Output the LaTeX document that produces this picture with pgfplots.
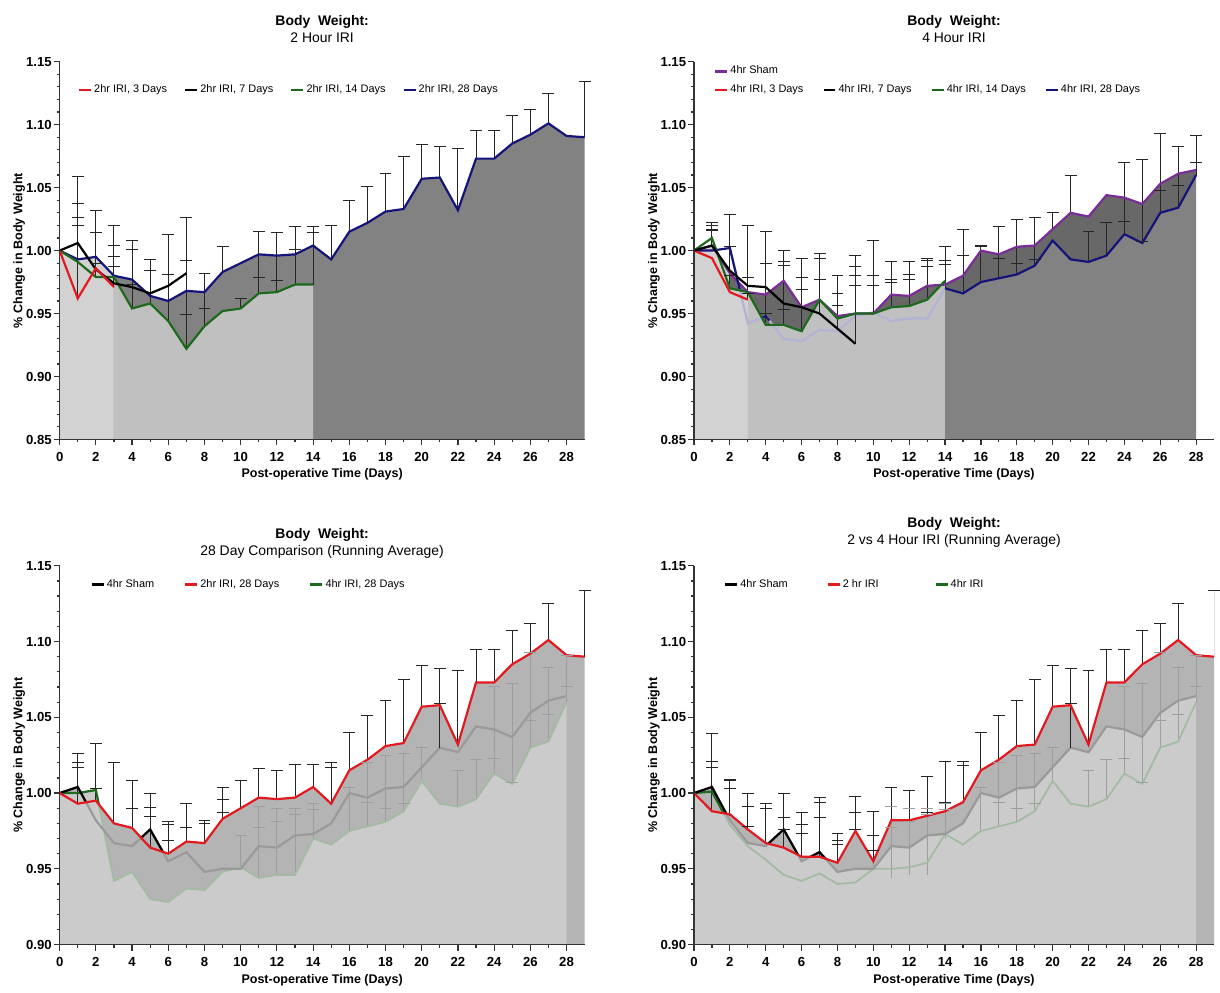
\documentclass[border=0pt]{standalone}
\usepackage{fontspec}
\setmainfont{Liberation Sans}
\usepackage{pgfplots}
\pgfplotsset{compat=1.18}
\usepackage{pgfplotstable}

\definecolor{cred}{HTML}{E3191F}
\definecolor{cgreen}{HTML}{1D6A1D}
\definecolor{cblue}{HTML}{14147A}
\definecolor{cpurple}{HTML}{7A2C98}
\definecolor{lg}{HTML}{D2D2D2}
\definecolor{mg}{HTML}{C0C0C0}
\definecolor{dg}{HTML}{828282}
\definecolor{dd}{HTML}{686868}
\definecolor{fa}{HTML}{B4B4B4}
\definecolor{fb}{HTML}{CBCBCB}
\definecolor{ebc}{HTML}{262626}
\definecolor{ebf}{HTML}{9E9E9E}
\definecolor{shamg}{HTML}{9A9A9A}
\definecolor{greenf}{HTML}{A2BCA2}
\definecolor{bluef}{HTML}{B2B2D6}

% ---------- Panel 1: 2 hour IRI ----------
\pgfplotstableread{
x y
0 1.000
1 0.962
2 0.986
3 0.971
}\pAred
\pgfplotstableread{
x y
0 1.000
1 1.006
2 0.985
3 0.974
4 0.971
5 0.966
6 0.972
7 0.982
}\pAblack
\pgfplotstableread{
x y
0 1.000
1 0.991
2 0.979
3 0.979
4 0.954
5 0.958
6 0.944
7 0.922
8 0.940
9 0.952
10 0.954
11 0.966
12 0.967
13 0.973
14 0.973
}\pAgreen
\pgfplotstableread{
x y
0 1.000
1 0.993
2 0.995
3 0.980
4 0.977
5 0.964
6 0.960
7 0.968
8 0.967
9 0.983
10 0.990
11 0.997
12 0.996
13 0.997
14 1.004
15 0.993
16 1.015
17 1.022
18 1.031
19 1.033
20 1.057
21 1.058
22 1.032
23 1.073
24 1.073
25 1.085
26 1.092
27 1.101
28 1.091
29 1.090
}\pAblue
\pgfplotstableread{
x b t
1 0.962 1.059
1 0.962 1.0375
1 0.962 1.026
1 0.962 1.020
2 0.979 1.032
2 0.979 1.014
2 0.979 0.990
3 0.971 1.020
3 0.971 1.004
3 0.971 0.995
3 0.971 0.987
4 0.954 1.008
4 0.954 1.001
4 0.954 0.973
5 0.958 0.993
5 0.958 0.984
6 0.944 1.013
6 0.944 0.981
7 0.922 1.026
7 0.922 0.992
7 0.922 0.949
8 0.940 0.982
8 0.940 0.954
9 0.983 1.003
10 0.954 0.962
11 0.966 1.015
11 0.966 0.979
12 0.967 1.014
12 0.967 0.976
13 0.973 1.019
13 0.973 1.001
14 0.973 1.019
14 0.973 1.014
15 0.993 1.020
16 1.015 1.040
17 1.022 1.051
18 1.031 1.061
19 1.033 1.075
20 1.057 1.084
21 1.058 1.083
22 1.032 1.081
23 1.073 1.095
24 1.073 1.095
25 1.085 1.107
26 1.092 1.112
27 1.101 1.125
29 1.090 1.134
}\pAerr

% ---------- Panel 2: 4 hour IRI ----------
\pgfplotstableread{
x y
0 1.000
1 1.004
2 0.982
3 0.967
4 0.965
5 0.976
6 0.955
7 0.961
8 0.948
9 0.950
10 0.950
11 0.965
12 0.964
13 0.972
14 0.973
15 0.980
16 1.000
17 0.997
18 1.003
19 1.004
20 1.017
21 1.030
22 1.027
23 1.044
24 1.042
25 1.037
26 1.053
27 1.061
28 1.064
}\sham
\pgfplotstableread{
x y
0 1.000
1 0.994
2 0.967
3 0.961
}\pBred
\pgfplotstableread{
x y
0 1.000
1 1.004
2 0.984
3 0.972
4 0.971
5 0.958
6 0.955
7 0.950
8 0.938
9 0.926
}\pBblack
\pgfplotstableread{
x y
0 1.000
1 1.010
2 0.970
3 0.967
4 0.941
5 0.941
6 0.936
7 0.961
8 0.946
9 0.950
10 0.950
11 0.955
12 0.956
13 0.961
14 0.976
}\pBgreen
\pgfplotstableread{
x y
0 1.000
1 1.000
2 1.002
3 0.942
4 0.948
5 0.930
6 0.928
7 0.937
8 0.936
9 0.948
10 0.951
11 0.944
12 0.946
13 0.946
14 0.970
15 0.966
16 0.975
17 0.978
18 0.981
19 0.988
20 1.008
21 0.993
22 0.991
23 0.996
24 1.013
25 1.006
26 1.030
27 1.034
28 1.060
}\pBblue
\pgfplotstableread{
x b t
1 1.003 1.022
1 1.003 1.020
1 1.003 1.017
1 1.003 1.016
2 0.970 1.029
2 0.970 1.003
2 0.970 0.980
3 0.961 1.020
3 0.961 0.979
3 0.961 0.966
4 0.941 1.015
4 0.941 0.990
4 0.941 0.950
5 0.941 1.000
5 0.941 0.991
5 0.941 0.988
5 0.941 0.953
6 0.936 0.994
6 0.936 0.979
6 0.936 0.969
7 0.950 0.998
7 0.950 0.994
7 0.950 0.977
8 0.938 0.980
8 0.938 0.966
8 0.938 0.956
9 0.926 0.996
9 0.926 0.987
9 0.926 0.980
9 0.926 0.972
10 0.950 1.008
10 0.950 0.980
10 0.950 0.972
11 0.955 0.991
11 0.955 0.977
11 0.955 0.975
12 0.956 0.991
12 0.956 0.981
12 0.956 0.977
13 0.961 0.994
13 0.961 0.992
13 0.961 0.987
14 0.970 1.003
14 0.970 0.992
14 0.970 0.989
15 0.966 1.017
15 0.966 0.996
16 0.975 1.004
16 0.975 1.003
17 0.978 1.019
17 0.978 0.994
18 0.981 1.025
18 0.981 0.990
19 0.988 1.026
19 0.988 0.993
20 1.017 1.030
21 1.030 1.060
22 0.991 1.015
23 0.996 1.022
24 1.013 1.070
24 1.013 1.023
25 1.005 1.072
25 1.005 1.007
26 1.030 1.093
26 1.030 1.048
27 1.034 1.083
27 1.034 1.052
28 1.060 1.091
28 1.060 1.070
}\pBerr

% ---------- Panel 3 error bars ----------
\pgfplotstableread{
x b t
1 0.993 1.026
1 0.993 1.0205
1 0.993 1.017
2 0.995 1.0325
2 0.995 1.003
3 0.980 1.020
4 0.977 1.008
4 0.977 0.990
5 0.963 1.000
5 0.963 0.9906
5 0.963 0.9847
6 0.960 0.981
6 0.960 0.979
6 0.960 0.969
7 0.968 0.993
7 0.968 0.977
8 0.967 0.982
8 0.967 0.980
9 0.983 1.004
9 0.983 0.996
9 0.983 0.987
10 0.990 1.008
11 0.997 1.016
12 0.996 1.015
13 0.997 1.019
14 1.004 1.019
15 0.993 1.0205
15 0.993 1.017
16 1.015 1.040
17 1.022 1.051
18 1.031 1.061
19 1.033 1.075
20 1.057 1.084
21 1.058 1.082
21 1.030 1.059
22 1.032 1.081
23 1.073 1.095
24 1.073 1.095
25 1.085 1.107
26 1.092 1.112
27 1.101 1.125
29 1.090 1.134
}\pCerr
\pgfplotstableread{
x b t
10 0.951 0.972
11 0.944 0.991
11 0.944 0.977
12 0.946 0.990
12 0.946 0.981
13 0.946 0.990
13 0.946 0.986
14 0.970 0.993
14 0.970 0.989
16 0.975 1.004
17 0.978 1.020
17 0.978 0.994
18 0.981 1.025
18 0.981 0.990
19 0.988 1.026
19 0.988 0.993
20 1.008 1.030
22 0.991 1.015
23 0.996 1.022
24 1.013 1.070
24 1.013 1.023
25 1.006 1.072
25 1.006 1.007
26 1.030 1.093
26 1.030 1.048
27 1.034 1.083
27 1.034 1.052
28 1.060 1.091
28 1.060 1.070
}\faintErr

% ---------- Panel 4 ----------
\pgfplotstableread{
x y
0 1.000
1 0.988
2 0.986
3 0.976
4 0.967
5 0.964
6 0.958
7 0.958
8 0.954
9 0.975
10 0.955
11 0.982
12 0.982
13 0.985
14 0.988
15 0.994
16 1.015
17 1.022
18 1.031
19 1.032
20 1.057
21 1.058
22 1.032
23 1.073
24 1.073
25 1.085
26 1.092
27 1.101
28 1.091
29 1.090
}\pDred
\pgfplotstableread{
x y
0 1.000
1 1.001
2 0.979
3 0.965
4 0.956
5 0.946
6 0.942
7 0.947
8 0.940
9 0.941
10 0.950
11 0.950
12 0.951
13 0.954
14 0.973
15 0.966
16 0.975
17 0.978
18 0.981
19 0.988
20 1.008
21 0.993
22 0.991
23 0.996
24 1.013
25 1.006
26 1.030
27 1.034
28 1.060
}\pDgreen
\pgfplotstableread{
x b t
1 0.988 1.039
1 0.988 1.021
1 0.988 1.017
2 0.985 1.009
2 0.985 1.008
2 0.985 1.003
3 0.976 1.000
3 0.976 0.991
3 0.976 0.978
4 0.967 0.993
4 0.967 0.990
5 0.964 1.000
5 0.964 0.984
5 0.964 0.976
6 0.958 0.987
6 0.958 0.979
6 0.958 0.973
7 0.958 0.997
7 0.958 0.994
7 0.958 0.984
8 0.954 0.973
8 0.954 0.969
8 0.954 0.966
9 0.975 0.998
9 0.975 0.987
9 0.975 0.976
10 0.955 0.988
10 0.955 0.972
10 0.955 0.962
11 0.982 1.004
12 0.982 1.002
13 0.985 1.011
13 0.985 0.987
14 0.988 1.021
14 0.988 0.994
15 0.994 1.021
15 0.994 1.018
16 1.015 1.040
17 1.022 1.051
18 1.031 1.061
19 1.032 1.075
20 1.057 1.084
21 1.058 1.082
21 1.030 1.059
22 1.032 1.081
23 1.073 1.095
24 1.073 1.095
25 1.085 1.107
26 1.092 1.112
27 1.101 1.125
29 1.090 1.134
}\pDerr

\pgfplotsset{
  legend image code/.code={\draw[#1, line width=1.2pt] (0pt,0pt) -- (6pt,0pt);},
  bw/.style={
    scale only axis,
    xmin=0, xmax=29,
    axis lines*=left,
    axis on top,
    axis line style={-, line width=0.7pt, black!80},
    xtick={0,2,...,28},
    minor x tick num=1,
    minor y tick num=4,
    tick align=outside,
    major tick length=3pt,
    minor tick length=1.5pt,
    tick style={black!80, line width=0.6pt},
    clip=false,
    /pgf/number format/assume math mode=true,
    tick label style={font=\fontsize{6.6}{7.5}\selectfont\bfseries},
    yticklabel style={inner sep=0.8pt, /pgf/number format/.cd, fixed, fixed zerofill, precision=2},
    xlabel={Post-operative Time (Days)},
    ylabel={\% Change in Body Weight},
    label style={font=\fontsize{6.3}{7.5}\selectfont\bfseries},
    ylabel style={at={(axis description cs:-0.071,0.5)}, anchor=base},
    legend style={draw=none, fill=none, font=\fontsize{5.5}{6.6}\selectfont,
      anchor=north west, inner sep=0pt, nodes={inner sep=1pt}},
    legend cell align=left,
  },
  errv/.style={forget plot, line width=0.5pt, #1, quiver={u=0, v=\thisrow{t}-\thisrow{b}}},
  errc/.style={forget plot, only marks, mark=-, mark size=3pt, #1, mark options={line width=0.5pt, #1}},
  ln/.style={forget plot, line width=1.1pt, #1},
  ar/.style={forget plot, draw=none, fill=#1},
  ttl/.style={title style={font=\fontsize{7}{8.5}\selectfont, align=center, inner sep=0pt, yshift=#1}},
  xl/.style={xlabel style={at={(axis description cs:0.5,0)}, anchor=base, yshift=#1}},
}

\begin{document}
\begin{tikzpicture}
\path (0,0) rectangle (610pt,-494pt);

% ================= Panel 1 =================
\begin{axis}[bw, at={(30pt,-221pt)}, anchor=south west,
  width=264pt, height=190pt, ymin=0.85, ymax=1.15,
  ytick={0.85,0.90,0.95,1.00,1.05,1.10,1.15},
  title={\textbf{Body\ \ Weight:}\\2 Hour IRI}, ttl=3.5pt, xl=-19pt,
  legend columns=4,
  legend style={at={(0.034,0.945)}, /tikz/every even column/.append style={column sep=7.5pt}}]
\addplot[ar=lg] coordinates {(0,0.85) (0,1.000) (1,0.993) (2,0.995) (3,0.980) (3,0.85)};
\addplot[ar=dg] coordinates {(3,0.85) (3,0.980) (4,0.977) (5,0.964) (6,0.960) (7,0.968) (8,0.967) (9,0.983) (10,0.990) (11,0.997) (12,0.996) (13,0.997) (14,1.004) (15,0.993) (16,1.015) (17,1.022) (18,1.031) (19,1.033) (20,1.057) (21,1.058) (22,1.032) (23,1.073) (24,1.073) (25,1.085) (26,1.092) (27,1.101) (28,1.091) (29,1.090) (29,0.85)};
\addplot[ar=mg] coordinates {(3,0.85) (3,0.979) (4,0.954) (5,0.958) (6,0.944) (7,0.922) (8,0.940) (9,0.952) (10,0.954) (11,0.966) (12,0.967) (13,0.973) (14,0.973) (14,0.85)};
\addplot[errv=ebc] table[x=x, y=b] {\pAerr};
\addplot[errc=ebc] table[x=x, y=t] {\pAerr};
\addplot[ln=cblue] table {\pAblue};
\addplot[ln=cgreen] table {\pAgreen};
\addplot[ln=black] table {\pAblack};
\addplot[ln=cred] table {\pAred};
\addlegendimage{cred}\addlegendentry{2hr IRI, 3 Days}
\addlegendimage{black}\addlegendentry{2hr IRI, 7 Days}
\addlegendimage{cgreen}\addlegendentry{2hr IRI, 14 Days}
\addlegendimage{cblue}\addlegendentry{2hr IRI, 28 Days}
\end{axis}

% ================= Panel 2 =================
\begin{axis}[bw, at={(349pt,-221pt)}, anchor=south west,
  width=261.5pt, height=190pt, ymin=0.85, ymax=1.15,
  ytick={0.85,0.90,0.95,1.00,1.05,1.10,1.15},
  title={\textbf{Body\ \ Weight:}\\4 Hour IRI}, ttl=3.5pt, xl=-19pt,
  legend columns=4,
  legend style={at={(0.038,0.995)}, row sep=2pt, /tikz/every even column/.append style={column sep=8.5pt}}]
\addplot[ar=lg] coordinates {(0,0.85) (0,1.000) (1,1.004) (2,0.982) (3,0.967) (3,0.85)};
\addplot[ar=mg] coordinates {(3,0.85) (3,0.967) (4,0.965) (5,0.976) (6,0.955) (7,0.961) (8,0.948) (9,0.950) (10,0.950) (11,0.965) (12,0.964) (13,0.972) (14,0.973) (14,0.85)};
\addplot[ar=dg] coordinates {(14,0.85) (14,0.970) (15,0.966) (16,0.975) (17,0.978) (18,0.981) (19,0.988) (20,1.008) (21,0.993) (22,0.991) (23,0.996) (24,1.013) (25,1.006) (26,1.030) (27,1.034) (28,1.060) (28,0.85)};
\addplot[ar=dd] coordinates {(2,0.982) (3,0.967) (4,0.965) (5,0.976) (6,0.955) (7,0.961) (8,0.948) (9,0.950) (10,0.950) (11,0.965) (12,0.964) (13,0.972) (14,0.973) (14,0.976) (13,0.961) (12,0.956) (11,0.955) (10,0.950) (9,0.950) (8,0.946) (7,0.961) (6,0.936) (5,0.941) (4,0.941) (3,0.967) (2,0.970)};
\addplot[ar=dd] coordinates {(14,0.973) (15,0.980) (16,1.000) (17,0.997) (18,1.003) (19,1.004) (20,1.017) (21,1.030) (22,1.027) (23,1.044) (24,1.042) (25,1.037) (26,1.053) (27,1.061) (28,1.064) (28,1.060) (27,1.034) (26,1.030) (25,1.006) (24,1.013) (23,0.996) (22,0.991) (21,0.993) (20,1.008) (19,0.988) (18,0.981) (17,0.978) (16,0.975) (15,0.966) (14,0.970)};
\addplot[ln=bluef, restrict x to domain=2:14] table {\pBblue};
\addplot[errv=ebc] table[x=x, y=b] {\pBerr};
\addplot[errc=ebc] table[x=x, y=t] {\pBerr};
\addplot[ln=cpurple] table {\sham};
\addplot[ln=cblue] coordinates {(0,1.000) (1,1.000) (2,1.002) (2.55,0.969)};
\addplot[ln=cblue] coordinates {(3.8,0.9468) (4,0.948) (4.2,0.9444)};
\addplot[ln=cblue, restrict x to domain=14:28] table {\pBblue};
\addplot[ln=cgreen] table {\pBgreen};
\addplot[ln=cred] table {\pBred};
\addplot[ln=black] table {\pBblack};
\addlegendimage{cpurple}\addlegendentry{4hr Sham}
\addlegendimage{white}\addlegendentry{}
\addlegendimage{white}\addlegendentry{}
\addlegendimage{white}\addlegendentry{}
\addlegendimage{cred}\addlegendentry{4hr IRI, 3 Days}
\addlegendimage{black}\addlegendentry{4hr IRI, 7 Days}
\addlegendimage{cgreen}\addlegendentry{4hr IRI, 14 Days}
\addlegendimage{cblue}\addlegendentry{4hr IRI, 28 Days}
\end{axis}

% ================= Panel 3 =================
\begin{axis}[bw, at={(30pt,-475pt)}, anchor=south west,
  width=264pt, height=190.5pt, ymin=0.90, ymax=1.15,
  ytick={0.90,0.95,1.00,1.05,1.10,1.15},
  title={\textbf{Body\ \ Weight:}\\28 Day Comparison (Running Average)}, ttl=-2.5pt, xl=-19.5pt,
  legend columns=3,
  legend style={at={(0.058,0.971)}, /tikz/every even column/.append style={column sep=14pt}}]
\addplot[ar=fa] coordinates {(0,0.90) (0,1.000) (1,0.993) (2,0.995) (3,0.980) (4,0.977) (5,0.964) (6,0.960) (7,0.968) (8,0.967) (9,0.983) (10,0.990) (11,0.997) (12,0.996) (13,0.997) (14,1.004) (15,0.993) (16,1.015) (17,1.022) (18,1.031) (19,1.033) (20,1.057) (21,1.058) (22,1.032) (23,1.073) (24,1.073) (25,1.085) (26,1.092) (27,1.101) (28,1.091) (29,1.090) (29,0.90)};
\addplot[ar=fa] coordinates {(0,1.000) (1,1.004) (1.46,0.9939) (1,0.993)};
\addplot[ar=fa] coordinates {(4.48,0.9703) (5,0.976) (5.72,0.9608) (5,0.963)};
\addplot[ar=fb] coordinates {(0,0.90) (0,1.000) (1,1.000) (2,1.002) (3,0.942) (4,0.948) (5,0.930) (6,0.928) (7,0.937) (8,0.936) (9,0.948) (10,0.951) (11,0.944) (12,0.946) (13,0.946) (14,0.970) (15,0.966) (16,0.975) (17,0.978) (18,0.981) (19,0.988) (20,1.008) (21,0.993) (22,0.991) (23,0.996) (24,1.013) (25,1.006) (26,1.030) (27,1.034) (28,1.060) (28,0.90)};
\addplot[errv=ebf] table[x=x, y=b] {\faintErr};
\addplot[errc=ebf] table[x=x, y=t] {\faintErr};
\addplot[ln=greenf, line width=0.9pt] table {\pBblue};
\addplot[ln=shamg] table {\sham};
\addplot[errv=ebc] table[x=x, y=b] {\pCerr};
\addplot[errc=ebc] table[x=x, y=t] {\pCerr};
\addplot[ln=cgreen] coordinates {(0,1.000) (1,1.000) (2,1.002) (2.16,0.9927)};
\addplot[ln=black] coordinates {(0,1.000) (1,1.004) (1.46,0.9939)};
\addplot[ln=black] coordinates {(4.48,0.9703) (5,0.976) (5.72,0.9608)};
\addplot[ln=cred] table {\pAblue};
\addlegendimage{black}\addlegendentry{4hr Sham}
\addlegendimage{cred}\addlegendentry{2hr IRI, 28 Days}
\addlegendimage{cgreen}\addlegendentry{4hr IRI, 28 Days}
\end{axis}

% ================= Panel 4 =================
\begin{axis}[bw, at={(349pt,-475pt)}, anchor=south west,
  width=261.5pt, height=190.5pt, ymin=0.90, ymax=1.15, clip=true,
  ytick={0.90,0.95,1.00,1.05,1.10,1.15},
  title={\textbf{Body\ \ Weight:}\\2 vs 4 Hour IRI (Running Average)}, ttl=3pt, xl=-19.5pt,
  legend columns=3,
  legend style={at={(0.057,0.971)}, /tikz/column 2/.style={column sep=18.5pt}, /tikz/column 4/.style={column sep=27pt}}]
\addplot[ar=fa] coordinates {(0,0.90) (0,1.000) (1,0.988) (2,0.986) (3,0.976) (4,0.967) (5,0.964) (6,0.958) (7,0.958) (8,0.954) (9,0.975) (10,0.955) (11,0.982) (12,0.982) (13,0.985) (14,0.988) (15,0.994) (16,1.015) (17,1.022) (18,1.031) (19,1.032) (20,1.057) (21,1.058) (22,1.032) (23,1.073) (24,1.073) (25,1.085) (26,1.092) (27,1.101) (28,1.091) (29,1.090) (29,0.90)};
\addplot[ar=fb] coordinates {(0,0.90) (0,1.000) (1,1.004) (2,0.982) (3,0.967) (4,0.965) (5,0.976) (6,0.955) (7,0.961) (8,0.948) (9,0.950) (10,0.950) (11,0.965) (12,0.964) (13,0.972) (14,0.973) (15,0.980) (16,1.000) (17,0.997) (18,1.003) (19,1.004) (20,1.017) (21,1.030) (22,1.027) (23,1.044) (24,1.042) (25,1.037) (26,1.053) (27,1.061) (28,1.064) (28,0.90)};
\addplot[ar=fa] coordinates {(0,1.000) (1,1.004) (1.8,0.9864) (1,0.988)};
\addplot[ar=fa] coordinates {(4.14,0.9666) (5,0.976) (5.8,0.9592) (5,0.964)};
\addplot[ar=fa] coordinates {(6.5,0.958) (7,0.961) (7.33,0.9567) (7,0.958)};
\addplot[errv=ebf] table[x=x, y=b] {\faintErr};
\addplot[errc=ebf] table[x=x, y=t] {\faintErr};
\addplot[ln=greenf, line width=0.9pt] table {\pDgreen};
\addplot[ln=shamg] table {\sham};
\addplot[errv=ebc] table[x=x, y=b] {\pDerr};
\addplot[errc=ebc] table[x=x, y=t] {\pDerr};
\addplot[ln=cgreen] coordinates {(0,1.000) (1,1.001) (1.65,0.9867)};
\addplot[ln=black] coordinates {(0,1.000) (1,1.004) (1.8,0.9864)};
\addplot[ln=black] coordinates {(4.14,0.9666) (5,0.976) (5.8,0.9592)};
\addplot[ln=black] coordinates {(6.5,0.958) (7,0.961) (7.33,0.9567)};
\addplot[ln=cred] table {\pDred};
\addlegendimage{black}\addlegendentry{4hr Sham}
\addlegendimage{cred}\addlegendentry{2 hr IRI}
\addlegendimage{cgreen}\addlegendentry{4hr IRI}
\end{axis}
\end{tikzpicture}
\end{document}
